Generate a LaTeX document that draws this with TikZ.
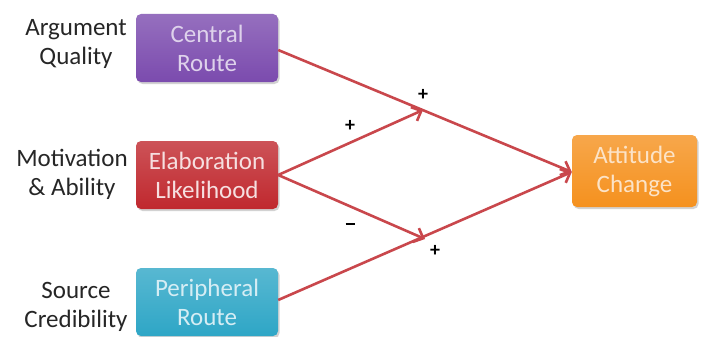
\documentclass[tikz,border=0pt]{standalone}
\usepackage{fontspec}
\setmainfont{Carlito}
\usetikzlibrary{arrows.meta,shadows}
\definecolor{cpurple}{HTML}{7B4BAE}
\definecolor{cred}{HTML}{C0282E}
\definecolor{ccyan}{HTML}{2EA6C6}
\definecolor{corange}{HTML}{F5911E}
\definecolor{carrow}{HTML}{C9474C}
\begin{document}
\begin{tikzpicture}[x=1pt,y=-1pt,
  box/.style={rounded corners=5pt, minimum width=142pt, minimum height=68pt, align=center, inner sep=1pt,
    font=\fontsize{25}{29}\selectfont, drop shadow={opacity=0.35, shadow xshift=1.5pt, shadow yshift=-2pt}},
  lab/.style={align=center, inner sep=1pt, font=\fontsize{25}{29}\selectfont, text=black!85},
  conn/.style={draw=carrow, line width=2.6pt},
  arr/.style={conn, -{Straight Barb[length=8pt,width=15pt,line width=2.6pt]}},
  sign/.style={font=\fontsize{20}{20}\selectfont\bfseries}]
\useasboundingbox (0,0) rectangle (701,337);
\fill[white] (0,0) rectangle (701,337);
\node[box, top color=cpurple!80!white, bottom color=cpurple, text=cpurple!25!white] (cr) at (207,48) {Central\\Route};
\node[box, top color=cred!80!white, bottom color=cred, text=cred!15!white] (el) at (207,175) {Elaboration\\Likelihood};
\node[box, top color=ccyan!80!white, bottom color=ccyan, text=ccyan!20!white] (pr) at (207,302) {Peripheral\\Route};
\node[box, minimum width=125pt, minimum height=72pt, top color=corange!80!white, bottom color=corange, text=corange!25!white] (at) at (634.5,171) {Attitude\\Change};
\node[lab] (aq) at (76,44) {Argument\\Quality};
\node[lab] (ma) at (72,174) {Motivation\\\& Ability};
\node[lab] (sc) at (76,307) {Source\\Credibility};
\coordinate (m1) at (423,110);
\coordinate (m2) at (425,239);
\draw[arr] (cr.east |- 0,50) -- (at.west |- 0,172);
\draw[arr] (pr.east |- 0,300) -- (at.west |- 0,172);
\draw[arr] (el.east) -- (m1);
\draw[arr] (el.east) -- (m2);
\node[sign] (s1) at (423,95) {+};
\node[sign] (s2) at (350,126) {+};
\node[sign] (s3) at (350,227) {\rule[0.6ex]{0.45em}{1.5pt}};
\node[sign] (s4) at (435,251) {+};
\end{tikzpicture}
\end{document}
